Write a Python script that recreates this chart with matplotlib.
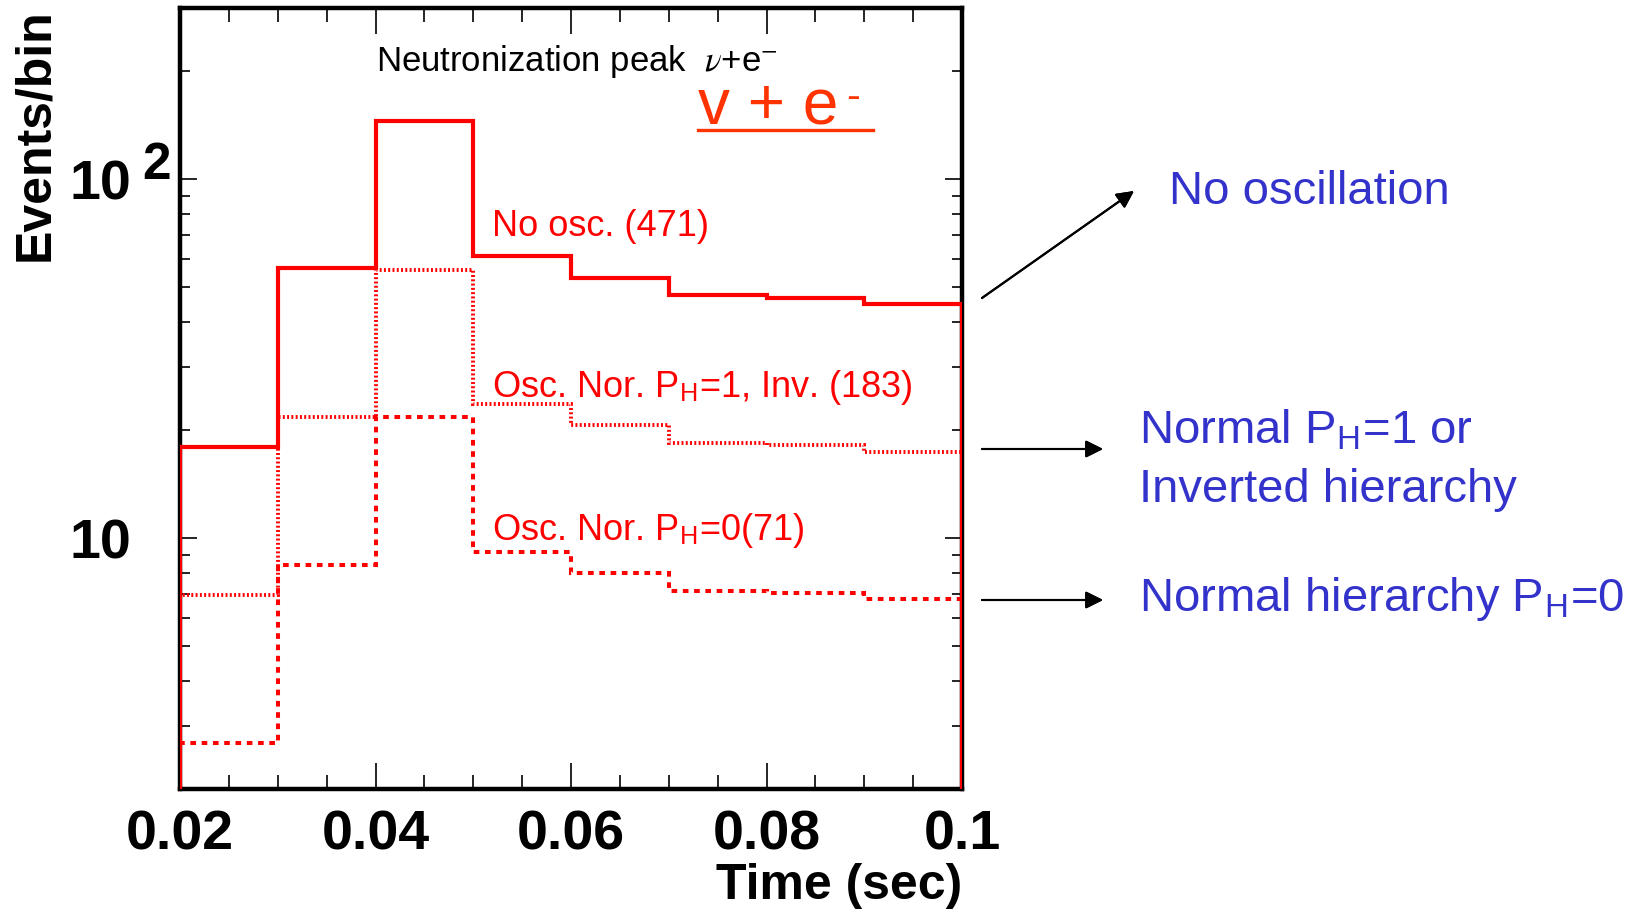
import numpy as np
import matplotlib
matplotlib.use("Agg")
import matplotlib.pyplot as plt
from matplotlib.ticker import FixedLocator, FixedFormatter, MultipleLocator, LogLocator, NullFormatter
from matplotlib.lines import Line2D

plt.rcParams['font.family'] = ['Liberation Sans', 'DejaVu Sans']
plt.rcParams['mathtext.fontset'] = 'stix'

# time bins (sec) and events per bin for the three cases
bin_edges = [0.02, 0.03, 0.04, 0.05, 0.06, 0.07, 0.08, 0.09, 0.10]
no_osc = [18.0, 56.5, 145.0, 61.0, 53.2, 47.5, 46.8, 45.0]            # total 471
osc_nor_ph1_inv = [6.94, 21.8, 56.0, 23.6, 20.6, 18.4, 18.15, 17.4]   # total 183
osc_nor_ph0 = [2.68, 8.44, 21.8, 9.15, 8.0, 7.13, 7.03, 6.75]        # total 71

x_ticks = [0.02, 0.04, 0.06, 0.08, 0.1]
x_tick_labels = ['0.02', '0.04', '0.06', '0.08', '0.1']
y_ticks = [10, 100]
y_tick_labels = ['10', '10']
y_min, y_max = 2, 300

W, H = 1639, 911
RED = '#FF0000'
ORANGE = '#FF3300'
BLUE = '#3333CC'


def px(x, y):
    # pixel position (from top-left) to figure fraction
    return x / W, 1 - y / H


fig = plt.figure(figsize=(W / 100, H / 100), dpi=100)
ax = fig.add_axes([180 / W, 1 - 789 / H, (962 - 180) / W, (789 - 8) / H])

ax.stairs(osc_nor_ph1_inv, bin_edges, baseline=y_min, color=RED, lw=2.8,
          linestyle=(0, (0.5, 0.6)), zorder=3)
ax.stairs(osc_nor_ph0, bin_edges, baseline=y_min, color=RED, lw=2.9,
          linestyle=(0, (1.4, 1.4)), zorder=3)
ax.stairs(no_osc, bin_edges, baseline=y_min, color=RED, lw=3.0, zorder=4)

ax.set_xlim(0.02, 0.1)
ax.set_yscale('log')
ax.set_ylim(y_min, y_max)

ax.xaxis.set_major_locator(FixedLocator(x_ticks))
ax.xaxis.set_major_formatter(FixedFormatter(x_tick_labels))
ax.xaxis.set_minor_locator(MultipleLocator(0.005))
ax.yaxis.set_major_locator(FixedLocator(y_ticks))
ax.yaxis.set_major_formatter(FixedFormatter(y_tick_labels))
ax.yaxis.set_minor_locator(LogLocator(base=10, subs=np.arange(2, 10)))
ax.yaxis.set_minor_formatter(NullFormatter())

for s in ax.spines.values():
    s.set_linewidth(3.2)
ax.tick_params(which='both', direction='in', top=True, right=True, width=1.2)
ax.tick_params(axis='x', which='major', length=19, pad=15)
ax.tick_params(axis='x', which='minor', length=10)
ax.tick_params(axis='y', which='major', length=12, pad=35)
ax.tick_params(axis='y', which='minor', length=7)
for lab in ax.get_xticklabels():
    lab.set_fontsize(40)
    lab.set_fontweight('bold')
for lab in ax.get_yticklabels():
    lab.set_fontsize(40)
    lab.set_fontweight('bold')

# exponent of the 10^2 label
ax.text((142 - 180) / 782, 100, '2', transform=ax.get_yaxis_transform(),
        fontsize=37, fontweight='bold', ha='left', va='baseline')

ax.set_xlabel('Time (sec)', loc='right', fontsize=36, fontweight='bold', labelpad=1)
ax.set_ylabel('Events/bin', loc='top', fontsize=36, fontweight='bold')
ax.yaxis.set_label_coords(-0.156, 1.0)

# title line and big reaction label
fig.text(*px(376, 71), r'Neutronization peak  $\nu$+e$^{-}$', fontsize=25,
         ha='left', va='baseline')
fig.text(*px(698, 123), 'v + e', fontsize=46, color=ORANGE, ha='left', va='baseline')
fig.text(*px(846, 98), '-', fontsize=30, color=ORANGE, ha='left', va='center')
fig.add_artist(Line2D([698 / W, 873 / W], [1 - 130 / H, 1 - 130 / H],
                      color=ORANGE, lw=2.4, transform=fig.transFigure))

# curve labels inside the frame
fig.text(*px(492, 236), 'No osc. (471)', fontsize=26, color=RED, va='baseline')
fig.text(*px(492, 397), r'Osc. Nor. P$_\mathregular{H}$=1, Inv. (183)', fontsize=26,
         color=RED, va='baseline')
fig.text(*px(492, 540), r'Osc. Nor. P$_\mathregular{H}$=0(71)', fontsize=26,
         color=RED, va='baseline')

# explanations on the right
fig.text(*px(1169, 204), 'No oscillation', fontsize=34, color=BLUE, va='baseline')
fig.text(*px(1139, 444), r'Normal P$_\mathregular{H}$=1 or', fontsize=34, color=BLUE,
         va='baseline')
fig.text(*px(1139, 502), 'Inverted hierarchy', fontsize=34, color=BLUE, va='baseline')
fig.text(*px(1139, 611), r'Normal hierarchy P$_\mathregular{H}$=0', fontsize=34,
         color=BLUE, va='baseline')

arrows = [((982, 298), (1134, 191)), ((982, 449), (1103, 449)), ((982, 600), (1103, 600))]
for start, end in arrows:
    fig.add_artist(plt.annotate('', xy=px(*end), xytext=px(*start),
                                xycoords='figure fraction', textcoords='figure fraction',
                                arrowprops=dict(arrowstyle='-|>', mutation_scale=26,
                                                lw=1.5, color='black',
                                                shrinkA=0, shrinkB=0)))

fig.savefig('out.png', dpi=100)
